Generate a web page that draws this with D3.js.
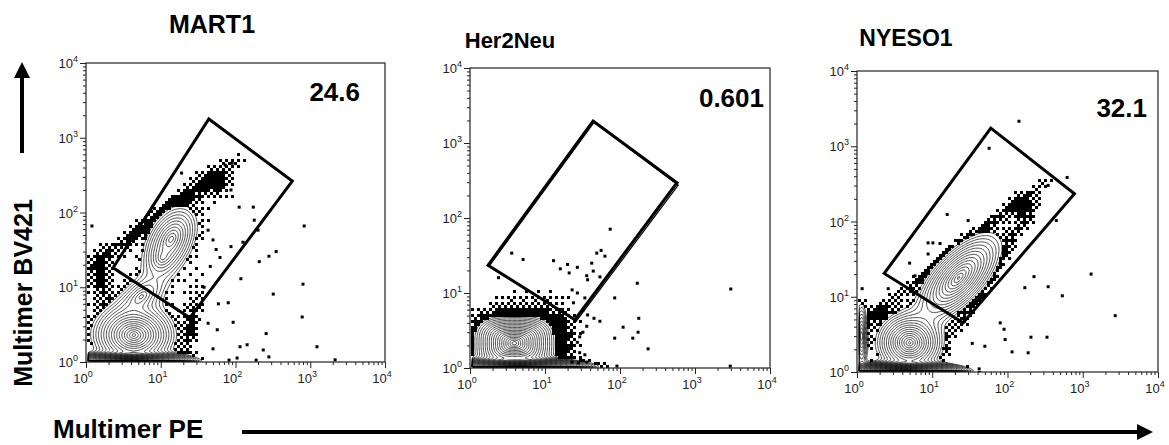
<!DOCTYPE html>
<html>
<head>
<meta charset="utf-8">
<script src="https://cdn.jsdelivr.net/npm/d3@7"></script>
<style>
  body { margin: 0; background: #fff; }
  svg { display: block; font-family: Arial, "Liberation Sans", Helvetica, sans-serif; }
</style>
</head>
<body>
<svg id="chart" width="1169" height="445"></svg>
<script>
// ---- data -------------------------------------------------------------
const panelNames = ["MART1", "Her2Neu", "NYESO1"];
const gatePercents = ["24.6", "0.601", "32.1"];
const decadeTicks = [1, 10, 100, 1000, 10000];
const tickExponents = ["0", "1", "2", "3", "4"];
const axisTitleY = "Multimer BV421";
const axisTitleX = "Multimer PE";

// gate vertices [PE, BV421]
const mart1Gate = [[44, 1780], [575, 263], [24.5, 3.9], [2.3, 18.2]];
const her2neuGate = [[43.7, 1960], [575, 295], [25, 4.4], [1.74, 23.4]];
const her2neuGateRedraw = [[45.3, 1893], [597, 274], [26.1, 4.21], [1.80, 22.8]];
const nyeso1Gate = [[60, 1740], [776, 234], [25.7, 4.5], [2.3, 20.4]];

// dense populations (contoured): [PE centre, BV421 centre, spread along axis (decades),
//   spread across axis (decades), axis angle (deg), weight, shape exponent]
const mart1Populations = [
  [4.37, 2.29, 0.13, 0.10, 0, 80, 2],      // multimer negative
  [4.0, 1.0, 0.13, 0.02, 0, 1500, 2],      // events piled on the PE axis
  [13.8, 44, 0.17, 0.105, 62, 17, 2],      // multimer positive
  [10.7, 25.1, 0.11, 0.08, 60, 7, 2],      // positive, lower peak
  [5.5, 7.5, 0.18, 0.10, 40, 7, 2]         // bridge between the two
];
// sparse regions (drawn as individual dots): same fields
const mart1Sparse = [
  [10, 93, 0.82, 0.07, 36, 1.3, 2],        // upper diagonal events
  [1.58, 13.2, 0.13, 0.27, 0, 1.1, 2],     // events near the BV421 axis
  [26.3, 3.55, 0.50, 0.10, 80, 0.9, 2],    // events right of the positives
  [60, 250, 0.18, 0.18, 0, 0.9, 2]         // bright positive tail
];
const her2neuPopulations = [
  [3.9, 2.14, 0.105, 0.072, 0, 150, 3],
  [4.3, 1.0, 0.15, 0.02, 0, 1500, 2]
];
const her2neuSparse = [
  [5.0, 2.82, 0.42, 0.40, 0, 1.15, 2],
  [15.8, 2.0, 0.10, 0.30, 0, 1.0, 2]
];
const nyeso1Populations = [
  [5.0, 2.45, 0.11, 0.10, 0, 60, 2],
  [22.4, 17.8, 0.20, 0.09, 47, 45, 2],
  [1.15, 3.0, 0.03, 0.17, 0, 12, 2],
  [4.0, 1.0, 0.13, 0.02, 0, 1500, 2]
];
const nyeso1Sparse = [
  [18.6, 38.9, 0.98, 0.05, 38, 1.1, 2],
  [56, 17.8, 0.75, 0.06, 58, 1.0, 2],
  [158, 158, 0.13, 0.13, 0, 1.1, 2],
  [2.0, 6.0, 0.12, 0.1, 0, 0.9, 2]
];

// share of each dense population's tail that shows up as outlying dots
const panelTailShare = [0.45, 0.9, 0.45];

// individual outlying events [PE, BV421]
const mart1Events = [
  [830, 66], [800, 11], [780, 4.0], [1230, 1.6], [2150, 1.07], [350, 30], [280, 26],
  [320, 8.1], [200, 58], [173, 118], [178, 79], [112, 118], [87, 200], [87, 35],
  [208, 22], [118, 13], [126, 40], [257, 2.4], [143, 1.7], [115, 1.6], [93, 3.4],
  [59, 6.0], [80, 6.2], [57, 2.7], [235, 1.45], [280, 1.17], [189, 1.06], [105, 1.13],
  [82, 1.06], [43, 3.3], [50, 1.5], [19, 337], [1.2, 66], [62, 25], [55, 32], [46, 19],
  [38, 10], [50, 43], [43, 58], [90, 457], [73, 430], [66, 316]
];
const her2neuEvents = [
  [74, 71], [56, 37], [49, 34], [63, 31], [3.6, 34], [5.1, 28], [13, 27], [170, 13.5],
  [3000, 11.3], [85, 8.6], [42, 25], [44, 19.6], [36, 17], [54, 16.4], [37, 15],
  [110, 3.5], [178, 4.6], [174, 3.0], [148, 2.5], [237, 1.8], [85, 2.5], [54, 4.2],
  [45, 4.6], [37, 5.1], [36, 3.6], [32, 3.0], [29, 2.6], [27, 2.2], [29, 1.6], [34, 1.5],
  [36, 1.2], [91, 1.06], [2950, 1.06], [23, 1.2], [28, 1.17], [2.4, 16], [16, 21],
  [20, 24], [27, 22], [21, 18.5], [23, 11], [27, 10], [34, 8.6], [24, 7.4], [32, 5.9]
];
const nyeso1Events = [
  [142, 2150], [57, 940], [620, 385], [347, 302], [15.8, 124], [30, 103], [445, 103],
  [8.8, 52], [10.2, 52], [12.7, 51], [8.8, 37], [5.0, 28], [11.6, 30], [1290, 20],
  [225, 18.5], [170, 13.2], [347, 13.6], [535, 10.3], [2700, 5.6], [80, 4.5], [90, 3.7],
  [93, 2.7], [205, 2.9], [335, 2.9], [115, 1.85], [188, 1.8], [50, 2.2], [34, 2.4],
  [42, 1.1], [2.6, 12.8], [5.9, 19], [15.8, 41], [1.17, 12.8]
];

const panelGates = [[mart1Gate], [her2neuGate, her2neuGateRedraw], [nyeso1Gate]];
const panelPopulations = [mart1Populations, her2neuPopulations, nyeso1Populations];
const panelSparse = [mart1Sparse, her2neuSparse, nyeso1Sparse];
const panelEvents = [mart1Events, her2neuEvents, nyeso1Events];

// ---- layout -----------------------------------------------------------
const frames = [
  { x: 86, y: 63, size: 299, titleX: 212, titleY: 33, titleSize: 25, pctX: 360, pctY: 101 },
  { x: 470, y: 68, size: 300, titleX: 510, titleY: 48, titleSize: 22, pctX: 764, pctY: 107 },
  { x: 857, y: 71, size: 301, titleX: 906, titleY: 46, titleSize: 23, pctX: 1147, pctY: 117 }
];

const svg = d3.select("#chart");

// density model of a population set, evaluated in decade coordinates
function density(pops, u, v) {
  let s = 0;
  for (const p of pops) {
    const a = p[4] * Math.PI / 180;
    const du = u - Math.log10(p[0]), dv = v - Math.log10(p[1]);
    const x = Math.abs((du * Math.cos(a) + dv * Math.sin(a)) / p[2]);
    const y = Math.abs((-du * Math.sin(a) + dv * Math.cos(a)) / p[3]);
    const k = p[6];
    const d = Math.pow(Math.pow(x, k) + Math.pow(y, k), 1 / k);
    s += p[5] * Math.exp(-d);
  }
  return s;
}

const lowestLevel = 1, levelRatio = 1.3, outlierLevel = 0.22;
const levels = d3.range(0, 40).map(k => lowestLevel * Math.pow(levelRatio, k));
const bayer = [[0, 8, 2, 10], [12, 4, 14, 6], [3, 11, 1, 9], [15, 7, 13, 5]];

frames.forEach((f, pi) => {
  const x = d3.scaleLog().domain([1, 10000]).range([f.x, f.x + f.size]);
  const y = d3.scaleLog().domain([1, 10000]).range([f.y + f.size, f.y]);
  const g = svg.append("g");
  const clipId = "clip" + pi;
  svg.append("clipPath").attr("id", clipId)
    .append("rect").attr("x", f.x).attr("y", f.y).attr("width", f.size).attr("height", f.size);

  const pops = panelPopulations[pi];
  const sparse = panelSparse[pi];
  const tail = panelTailShare[pi];
  const plot = g.append("g").attr("clip-path", `url(#${clipId})`);

  // outlier dots where the dense populations fall below the lowest contour
  const cell = 3;
  const dotsData = [];
  for (let j = 0; j * cell < f.size; j++) {
    for (let i = 0; i * cell < f.size; i++) {
      const px = f.x + 1 + i * cell, py = f.y + j * cell;
      const u = Math.log10(x.invert(px + cell / 2));
      const v = Math.log10(y.invert(py + cell / 2));
      const dense = density(pops, u, v);
      if (dense >= lowestLevel) continue;
      const d = tail * dense + density(sparse, u, v);
      if (d < outlierLevel) continue;
      const frac = Math.min(1, 1.35 * (d - outlierLevel) / (lowestLevel - outlierLevel));
      if (frac > (bayer[j % 4][i % 4] + 0.5) / 16) dotsData.push([x.invert(px), y.invert(py)]);
    }
  }
  plot.append("g").selectAll("rect").data(dotsData).join("rect")
    .attr("x", d => x(d[0])).attr("y", d => y(d[1]))
    .attr("width", cell).attr("height", cell).attr("fill", "#000");

  // contour grid in decades
  const n = 240, u0 = 0.03, v0 = 0.012;
  const du = (4 - u0) / n, dv = (4 - v0) / n;
  const values = new Float64Array(n * n);
  for (let j = 0; j < n; j++) {
    const v = v0 + (j + 0.5) * dv;
    for (let i = 0; i < n; i++) {
      values[i + j * n] = density(pops, u0 + (i + 0.5) * du, v);
    }
  }
  const maxV = d3.max(values);
  const contours = d3.contours().size([n, n]).thresholds(levels.filter(l => l < maxV))(values);
  const proj = d3.geoTransform({
    point: function (gx, gy) {
      this.stream.point(x(Math.pow(10, u0 + gx * du)), y(Math.pow(10, v0 + gy * dv)));
    }
  });
  const path = d3.geoPath(proj);
  plot.append("g").selectAll("path").data(contours).join("path")
    .attr("d", path).attr("fill", "none").attr("stroke", "#000").attr("stroke-width", 0.7);

  // individual events
  plot.append("g").selectAll("rect").data(panelEvents[pi]).join("rect")
    .attr("x", d => x(d[0]) - 1.5).attr("y", d => y(d[1]) - 1.5)
    .attr("width", 3).attr("height", 3).attr("fill", "#000");

  // gates
  panelGates[pi].forEach((gate, gi) => {
    g.append("path")
      .attr("d", d3.line().x(d => x(d[0])).y(d => y(d[1])).curve(d3.curveLinearClosed)(gate))
      .attr("fill", "none").attr("stroke", "#000")
      .attr("stroke-width", gi === 0 ? 3 : 1.2).attr("stroke-linejoin", "miter");
  });

  // frame
  g.append("rect").attr("x", f.x).attr("y", f.y).attr("width", f.size).attr("height", f.size)
    .attr("fill", "none").attr("stroke", "#222").attr("stroke-width", 1.2);

  // axes with log minor ticks
  const minor = [];
  decadeTicks.slice(0, -1).forEach(t => { for (let m = 2; m <= 9; m++) minor.push(t * m); });
  const styleAxis = sel => { sel.select(".domain").remove(); sel.selectAll("line").attr("stroke", "#222"); };
  g.append("g").attr("transform", `translate(0,${f.y + f.size})`)
    .call(d3.axisBottom(x).tickValues(minor).tickSize(3).tickFormat(() => "")).call(styleAxis);
  g.append("g").attr("transform", `translate(0,${f.y + f.size})`)
    .call(d3.axisBottom(x).tickValues(decadeTicks).tickSize(6).tickFormat(() => "")).call(styleAxis);
  g.append("g").attr("transform", `translate(${f.x},0)`)
    .call(d3.axisLeft(y).tickValues(minor).tickSize(3).tickFormat(() => "")).call(styleAxis);
  g.append("g").attr("transform", `translate(${f.x},0)`)
    .call(d3.axisLeft(y).tickValues(decadeTicks).tickSize(6).tickFormat(() => "")).call(styleAxis);

  // tick labels 10^n
  const labelX = g.append("g").selectAll("text").data(decadeTicks).join("text")
    .attr("x", d => x(d) - 3).attr("y", f.y + f.size + 21)
    .attr("text-anchor", "middle").attr("font-size", 13).attr("fill", "#222");
  labelX.append("tspan").text("10");
  labelX.append("tspan").attr("dy", -6).attr("font-size", 9).text((d, i) => tickExponents[i]);

  const labelY = g.append("g").selectAll("text").data(decadeTicks).join("text")
    .attr("x", f.x - 8).attr("y", d => y(d) + 5)
    .attr("text-anchor", "end").attr("font-size", 13).attr("fill", "#222");
  labelY.append("tspan").text("10");
  labelY.append("tspan").attr("dy", -6).attr("font-size", 9).text((d, i) => tickExponents[i]);

  // title and gate frequency
  g.append("text").attr("x", f.titleX).attr("y", f.titleY).attr("text-anchor", "middle")
    .attr("font-weight", "bold").attr("font-size", f.titleSize).text(panelNames[pi]);
  g.append("text").attr("x", f.pctX).attr("y", f.pctY).attr("text-anchor", "end")
    .attr("font-weight", "bold").attr("font-size", 26).text(gatePercents[pi]);
});

// axis titles with arrows
svg.append("text")
  .attr("transform", "translate(32,293) rotate(-90)")
  .attr("text-anchor", "middle").attr("font-weight", "bold").attr("font-size", 25)
  .text(axisTitleY);
svg.append("text").attr("x", 53).attr("y", 438)
  .attr("font-weight", "bold").attr("font-size", 26).text(axisTitleX);

svg.append("line").attr("x1", 22).attr("y1", 153).attr("x2", 22).attr("y2", 74)
  .attr("stroke", "#000").attr("stroke-width", 4);
svg.append("path").attr("d", "M22,62 L14,78 L30,78 Z").attr("fill", "#000");

svg.append("line").attr("x1", 242).attr("y1", 432).attr("x2", 1140).attr("y2", 432)
  .attr("stroke", "#000").attr("stroke-width", 4);
svg.append("path").attr("d", "M1153,432 L1137,424 L1137,440 Z").attr("fill", "#000");
</script>
</body>
</html>
